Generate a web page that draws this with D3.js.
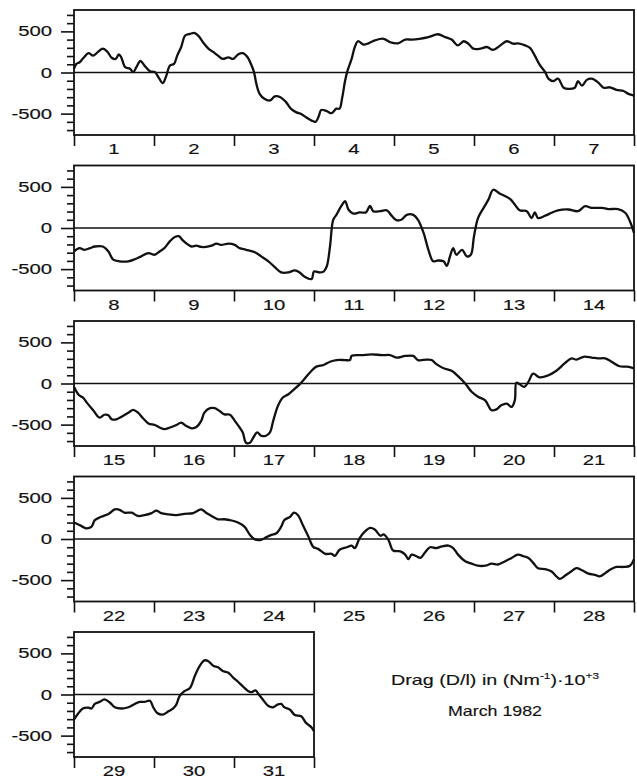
<!DOCTYPE html>
<html>
<head>
<meta charset="utf-8">
<script src="https://cdn.jsdelivr.net/npm/d3@7"></script>
<style>
    body { margin: 0; background: #fff; }
    svg { display: block; }
    text { font-family: "Liberation Sans", Arial, sans-serif; fill: #111; }
</style>
</head>
<body>
<svg id="chart" width="637" height="783"></svg>
<script>
// Drag values, [day of March, drag]
const week1 = [
    [1.00, 45], [1.03, 105], [1.07, 125], [1.12, 180], [1.18, 235], [1.24, 205], [1.30, 250],
    [1.36, 290], [1.42, 250], [1.47, 180], [1.52, 165], [1.56, 220], [1.59, 185], [1.64, 65],
    [1.70, 45], [1.74, 5], [1.78, 65], [1.83, 140], [1.88, 85], [1.95, 15], [2.01, 5],
    [2.06, -65], [2.11, -130], [2.15, -50], [2.20, 85], [2.25, 105], [2.29, 205], [2.34, 310],
    [2.39, 450], [2.45, 470], [2.51, 480], [2.56, 440], [2.61, 370], [2.68, 290], [2.74, 250],
    [2.80, 205], [2.86, 165], [2.93, 185], [2.99, 165], [3.05, 220], [3.11, 235], [3.17, 185],
    [3.22, 85], [3.25, 5], [3.28, -140], [3.32, -260], [3.38, -320], [3.45, -340], [3.51, -290],
    [3.58, -300], [3.65, -360], [3.71, -440], [3.78, -485], [3.84, -505], [3.90, -545],
    [3.97, -585], [4.02, -600], [4.06, -530], [4.09, -455], [4.16, -470], [4.22, -495],
    [4.28, -440], [4.32, -440], [4.35, -320], [4.39, -95], [4.42, 25], [4.47, 165], [4.51, 310],
    [4.55, 380], [4.62, 340], [4.68, 355], [4.76, 390], [4.87, 410], [4.95, 370], [5.05, 355],
    [5.14, 400], [5.22, 400], [5.32, 410], [5.43, 430], [5.55, 465], [5.64, 430], [5.72, 400],
    [5.80, 330], [5.87, 380], [5.93, 350], [5.99, 290], [6.08, 290], [6.16, 310], [6.24, 275],
    [6.33, 330], [6.41, 380], [6.49, 350], [6.55, 355], [6.64, 330], [6.70, 300], [6.76, 205],
    [6.82, 95], [6.89, 5], [6.93, -75], [6.99, -105], [7.05, -75], [7.12, -185], [7.18, -200],
    [7.26, -185], [7.30, -105], [7.35, -160], [7.41, -90], [7.47, -75], [7.55, -120],
    [7.62, -185], [7.70, -180], [7.78, -210], [7.87, -225], [7.93, -260], [8.00, -280]
];
const week2 = [
    [8.00, -285], [8.07, -245], [8.13, -265], [8.20, -245], [8.26, -225], [8.36, -225],
    [8.43, -285], [8.49, -385], [8.57, -405], [8.68, -405], [8.76, -380], [8.84, -345],
    [8.93, -305], [9.01, -325], [9.07, -285], [9.13, -245], [9.20, -160], [9.26, -110],
    [9.31, -100], [9.36, -150], [9.43, -205], [9.47, -225], [9.53, -215], [9.59, -230],
    [9.65, -230], [9.72, -215], [9.78, -190], [9.84, -205], [9.93, -190], [10.01, -205],
    [10.07, -245], [10.15, -265], [10.26, -295], [10.34, -345], [10.43, -405], [10.51, -475],
    [10.59, -540], [10.68, -540], [10.76, -515], [10.82, -540], [10.88, -590], [10.97, -620],
    [11.00, -530], [11.07, -540], [11.12, -530], [11.16, -465], [11.20, -225], [11.24, 100],
    [11.28, 160], [11.34, 265], [11.39, 325], [11.43, 225], [11.49, 175], [11.57, 190],
    [11.65, 190], [11.70, 270], [11.74, 205], [11.83, 205], [11.91, 215], [11.97, 150],
    [12.03, 95], [12.09, 100], [12.16, 160], [12.24, 160], [12.30, 100], [12.37, -60],
    [12.43, -265], [12.49, -405], [12.55, -395], [12.62, -405], [12.66, -460], [12.70, -345],
    [12.74, -245], [12.78, -325], [12.85, -265], [12.91, -345], [12.96, -325], [13.00, -100],
    [13.05, 120], [13.12, 245], [13.18, 345], [13.24, 465], [13.32, 420], [13.45, 355],
    [13.51, 285], [13.57, 215], [13.66, 205], [13.72, 120], [13.76, 190], [13.80, 120],
    [13.89, 150], [13.97, 185], [14.05, 215], [14.18, 225], [14.30, 205], [14.39, 265],
    [14.47, 245], [14.60, 245], [14.68, 230], [14.80, 230], [14.89, 185], [14.95, 80],
    [15.00, -60]
];
const week3 = [
    [15.00, -40], [15.06, -140], [15.11, -170], [15.17, -245], [15.24, -325], [15.32, -415],
    [15.38, -380], [15.43, -385], [15.47, -435], [15.53, -435], [15.61, -395], [15.68, -355],
    [15.74, -320], [15.80, -355], [15.86, -420], [15.93, -485], [16.01, -505], [16.07, -535],
    [16.13, -555], [16.20, -535], [16.28, -505], [16.34, -475], [16.40, -515], [16.47, -545],
    [16.53, -530], [16.59, -455], [16.63, -355], [16.70, -300], [16.76, -300], [16.82, -335],
    [16.88, -375], [16.95, -380], [17.01, -455], [17.07, -535], [17.11, -595], [17.15, -720],
    [17.20, -720], [17.24, -660], [17.29, -595], [17.34, -635], [17.40, -635], [17.45, -595],
    [17.49, -455], [17.55, -270], [17.61, -170], [17.68, -130], [17.74, -80], [17.82, -10],
    [17.88, 55], [17.97, 155], [18.03, 205], [18.12, 225], [18.20, 265], [18.28, 285],
    [18.39, 285], [18.45, 285], [18.47, 335], [18.60, 345], [18.72, 355], [18.85, 345],
    [18.95, 345], [19.03, 315], [19.14, 335], [19.24, 335], [19.30, 285], [19.41, 290],
    [19.47, 285], [19.53, 235], [19.62, 185], [19.72, 155], [19.80, 90], [19.89, 0],
    [19.97, -100], [20.05, -160], [20.14, -205], [20.22, -325], [20.28, -315], [20.34, -265],
    [20.41, -245], [20.47, -285], [20.51, -205], [20.53, 10], [20.57, -10], [20.63, -40],
    [20.68, 20], [20.74, 120], [20.82, 75], [20.93, 100], [21.03, 155], [21.14, 250],
    [21.22, 305], [21.28, 290], [21.37, 325], [21.47, 315], [21.55, 305], [21.64, 305],
    [21.72, 265], [21.82, 210], [21.91, 205], [22.00, 185]
];
const week4 = [
    [22.00, 200], [22.09, 160], [22.15, 130], [22.22, 150], [22.26, 230], [22.34, 270],
    [22.43, 305], [22.51, 360], [22.57, 355], [22.63, 320], [22.72, 320], [22.80, 280],
    [22.88, 290], [22.97, 315], [23.03, 345], [23.09, 315], [23.17, 300], [23.28, 290],
    [23.38, 305], [23.49, 315], [23.55, 345], [23.59, 360], [23.65, 320], [23.72, 280],
    [23.80, 240], [23.88, 240], [23.97, 225], [24.05, 200], [24.13, 150], [24.20, 50],
    [24.26, -5], [24.34, -10], [24.40, 20], [24.47, 50], [24.53, 70], [24.59, 150],
    [24.63, 230], [24.70, 270], [24.75, 320], [24.80, 290], [24.86, 170], [24.93, 30],
    [24.99, -95], [25.05, -120], [25.14, -180], [25.22, -180], [25.26, -205], [25.32, -130],
    [25.41, -100], [25.47, -80], [25.51, -110], [25.57, 10], [25.64, 95], [25.70, 135],
    [25.76, 115], [25.83, 40], [25.87, 55], [25.93, -10], [25.99, -140], [26.08, -150],
    [26.14, -190], [26.18, -245], [26.22, -190], [26.28, -210], [26.33, -230], [26.39, -160],
    [26.45, -100], [26.53, -110], [26.60, -90], [26.68, -80], [26.74, -110], [26.80, -190],
    [26.89, -270], [26.97, -300], [27.05, -325], [27.14, -325], [27.22, -300], [27.30, -310],
    [27.39, -270], [27.47, -230], [27.55, -190], [27.62, -210], [27.68, -230], [27.74, -290],
    [27.80, -355], [27.89, -365], [27.97, -395], [28.03, -455], [28.07, -485], [28.14, -445],
    [28.20, -405], [28.28, -355], [28.35, -380], [28.43, -420], [28.51, -435], [28.57, -455],
    [28.64, -415], [28.70, -375], [28.78, -340], [28.87, -340], [28.95, -325], [29.00, -245]
];
const week5 = [
    [29.00, -305], [29.05, -235], [29.11, -170], [29.18, -160], [29.22, -170], [29.26, -115],
    [29.32, -90], [29.38, -60], [29.45, -100], [29.51, -155], [29.59, -170], [29.68, -155],
    [29.76, -115], [29.82, -90], [29.88, -90], [29.95, -75], [29.99, -155], [30.04, -225],
    [30.11, -245], [30.18, -205], [30.24, -170], [30.28, -120], [30.32, -20], [30.38, 40],
    [30.45, 80], [30.51, 225], [30.57, 345], [30.63, 415], [30.68, 405], [30.74, 350],
    [30.80, 330], [30.86, 285], [30.93, 265], [30.99, 205], [31.05, 155], [31.11, 100],
    [31.18, 40], [31.22, 30], [31.27, 50], [31.31, 0], [31.36, -60], [31.43, -140],
    [31.49, -155], [31.55, -120], [31.59, -115], [31.63, -155], [31.70, -185], [31.76, -250],
    [31.84, -265], [31.90, -345], [31.97, -400], [32.00, -445]
];

const firstDays = [1, 8, 15, 22, 29];
const dayCounts = [7, 7, 7, 7, 3];
const weeks = [week1, week2, week3, week4, week5];

const yDomain = [-760, 760];
const yMajorTicks = [-500, 0, 500];
const yMinorTicks = [-700, -600, -400, -300, -200, -100, 100, 200, 300, 400, 600, 700];

const noteTitle = 'Drag (D/l) in (Nm';
const noteMonth = 'March 1982';

const svg = d3.select('#chart');
const left = 74;
const dayWidth = 80;
const panelHeight = 125;
const panelStep = 155.5;
const firstTop = 10;
const ink = '#111';

// stretched plotter-style label
function label(g, x, y, txt, anchor, sx) {
    g.append('text')
        .attr('transform', `translate(${x},${y}) scale(${sx},1)`)
        .attr('text-anchor', anchor)
        .attr('font-size', 14)
        .attr('stroke', ink)
        .attr('stroke-width', 0.15)
        .text(txt);
}

weeks.forEach((data, i) => {
    const top = firstTop + i * panelStep;
    const first = firstDays[i];
    const n = dayCounts[i];

    const x = d3.scaleLinear()
        .domain([first, first + n])
        .range([left, left + n * dayWidth]);
    const y = d3.scaleLinear()
        .domain(yDomain)
        .range([top + panelHeight, top]);

    const g = svg.append('g');

    // y axis: minor then major ticks
    g.append('g')
        .attr('transform', `translate(${left},0)`)
        .call(d3.axisLeft(y).tickValues(yMinorTicks).tickSize(7).tickSizeOuter(0).tickFormat(''))
        .call((a) => a.select('.domain').remove());
    g.append('g')
        .attr('transform', `translate(${left},0)`)
        .call(d3.axisLeft(y).tickValues(yMajorTicks).tickSize(13).tickSizeOuter(0).tickFormat(''))
        .call((a) => a.select('.domain').remove());
    g.selectAll('.tick line').attr('stroke', ink).attr('stroke-width', 1.6);

    yMajorTicks.forEach((v) => {
        label(g, left - 22, y(v) + 5, String(v), 'end', 1.45);
    });

    // x axis: day boundaries
    const dayEdges = d3.range(first, first + n + 1);
    g.append('g')
        .attr('transform', `translate(0,${top + panelHeight})`)
        .call(d3.axisBottom(x).tickValues(dayEdges).tickSize(11).tickSizeOuter(0).tickFormat(''))
        .call((a) => a.select('.domain').remove())
        .selectAll('.tick line')
        .attr('stroke', ink)
        .attr('stroke-width', 1.6);

    d3.range(first, first + n).forEach((d) => {
        label(g, x(d + 0.5), top + panelHeight + 19, String(d), 'middle', 1.45);
    });

    // frame
    g.append('rect')
        .attr('x', x(first))
        .attr('y', y(yDomain[1]))
        .attr('width', x(first + n) - x(first))
        .attr('height', y(yDomain[0]) - y(yDomain[1]))
        .attr('fill', 'none')
        .attr('stroke', ink)
        .attr('stroke-width', 1.8);

    // zero line
    g.append('line')
        .attr('x1', x(first))
        .attr('x2', x(first + n))
        .attr('y1', y(0))
        .attr('y2', y(0))
        .attr('stroke', ink)
        .attr('stroke-width', 1.5);

    // drag series
    const line = d3.line()
        .x((d) => x(d[0]))
        .y((d) => y(d[1]))
        .curve(d3.curveCatmullRom.alpha(0.5));
    g.append('path')
        .datum(data)
        .attr('d', line)
        .attr('fill', 'none')
        .attr('stroke', ink)
        .attr('stroke-width', 2.3)
        .attr('stroke-linejoin', 'round');
});

// annotation
const note = svg.append('g').attr('stroke', ink).attr('stroke-width', 0.15);
const title = note.append('text')
    .attr('x', 495)
    .attr('y', 685)
    .attr('text-anchor', 'middle')
    .attr('font-size', 15)
    .attr('textLength', 208)
    .attr('lengthAdjust', 'spacingAndGlyphs');
title.append('tspan').text(noteTitle);
title.append('tspan').attr('dy', -6).attr('font-size', 9).text('-1');
title.append('tspan').attr('dy', 6).text(')\u00b710');
title.append('tspan').attr('dy', -6).attr('font-size', 9).text('+3');

note.append('text')
    .attr('x', 495)
    .attr('y', 716)
    .attr('text-anchor', 'middle')
    .attr('font-size', 15)
    .attr('textLength', 94)
    .attr('lengthAdjust', 'spacingAndGlyphs')
    .text(noteMonth);
</script>
</body>
</html>
